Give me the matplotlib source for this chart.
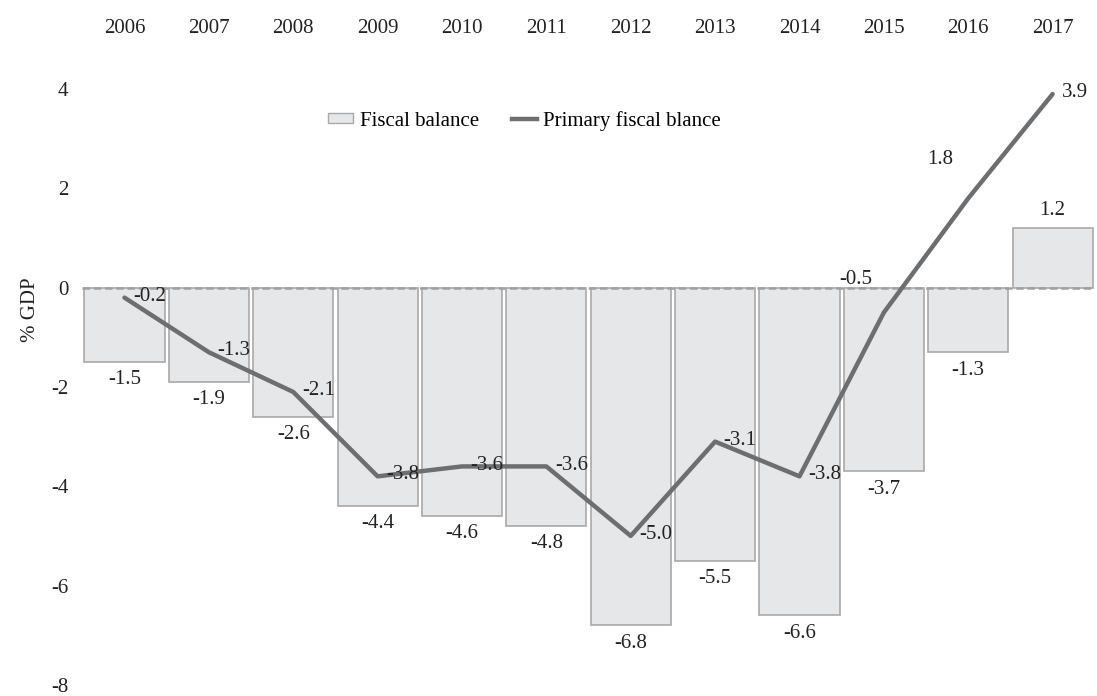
import matplotlib
matplotlib.use('Agg')
from matplotlib import pyplot as plt
import matplotlib.patches as mpatches
from matplotlib.lines import Line2D
import numpy as np

plt.rcParams['font.family'] = ['Liberation Serif', 'DejaVu Serif']

years = ['2006', '2007', '2008', '2009', '2010', '2011',
         '2012', '2013', '2014', '2015', '2016', '2017']
fiscal_balance = [-1.5, -1.9, -2.6, -4.4, -4.6, -4.8, -6.8, -5.5, -6.6, -3.7, -1.3, 1.2]
primary_balance = [-0.2, -1.3, -2.1, -3.8, -3.6, -3.6, -5.0, -3.1, -3.8, -0.5, 1.8, 3.9]

# label offsets (points) for the line labels, most go to the right
line_offsets = [(18, 1), (18, 1), (18, 1), (18, 1), (18, 1), (18, 1),
                (18, 1), (18, 1), (18, 1), (-20, 24), (-20, 28), (16, 1)]

bar_fill = '#e6e7e8'
bar_edge = '#a9a9a9'
line_col = '#6d6e70'
txt = '#222222'
fs = 15

fig = plt.figure(figsize=(10.97, 6.96), dpi=100)
ax = fig.add_axes([0.075, 0.016, 0.923, 0.856])

x = np.arange(len(years))
ax.bar(x, fiscal_balance, width=0.95, color=bar_fill, edgecolor=bar_edge, linewidth=1.2, zorder=2)
ax.axhline(0, color='#a0a0a0', linestyle='--', linewidth=1.8, dashes=(3, 1.5), zorder=3)
ax.plot(x, primary_balance, color=line_col, linewidth=3.2, zorder=4, solid_capstyle='round')

for i, v in enumerate(fiscal_balance):
    if v < 0:
        ax.annotate(f'{v:.1f}', (x[i], v), xytext=(0, -6), textcoords='offset points',
                    ha='center', va='top', fontsize=fs, color=txt, zorder=5)
    else:
        ax.annotate(f'{v:.1f}', (x[i], v), xytext=(0, 6), textcoords='offset points',
                    ha='center', va='bottom', fontsize=fs, color=txt, zorder=5)

for i, v in enumerate(primary_balance):
    dx, dy = line_offsets[i]
    ax.annotate(f'{v:.1f}', (x[i], v), xytext=(dx, dy), textcoords='offset points',
                ha='center', va='center', fontsize=fs, color=txt, zorder=5)

ax.set_xlim(-0.5, len(years) - 0.5)
ax.set_ylim(-8, 4)
ax.set_yticks([4, 2, 0, -2, -4, -6, -8])
ax.set_yticklabels(['4', '2', '0', '-2', '-4', '-6', '-8'])
ax.xaxis.tick_top()
ax.set_xticks(x)
ax.set_xticklabels(years)
ax.tick_params(axis='x', length=0, pad=37, labelsize=fs, colors=txt)
ax.tick_params(axis='y', length=0, pad=10, labelsize=fs, colors=txt)
for s in ax.spines.values():
    s.set_visible(False)

ax.set_ylabel('% GDP', fontsize=fs, color=txt)
ax.yaxis.set_label_coords(-0.042, 0.63)

h1 = mpatches.Patch(facecolor=bar_fill, edgecolor=bar_edge, label='Fiscal balance')
h2 = Line2D([0], [0], color=line_col, linewidth=3.2, label='Primary fiscal blance')
ax.legend(handles=[h1, h2], loc='center', bbox_to_anchor=(0.437, 0.947), ncol=2,
          frameon=False, fontsize=fs, handlelength=1.2, handleheight=0.4,
          handletextpad=0.3, columnspacing=1.6)

fig.savefig('out.png', dpi=100)
